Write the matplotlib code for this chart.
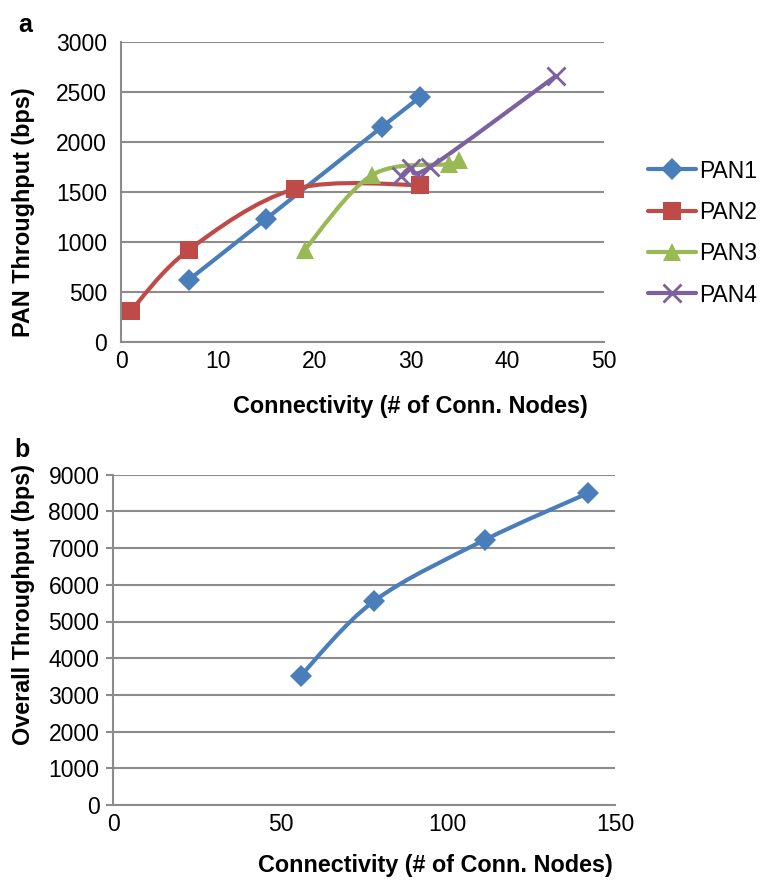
import numpy as np
import matplotlib
matplotlib.use("Agg")
import matplotlib.pyplot as plt
from matplotlib.path import Path
from matplotlib.patches import PathPatch
from matplotlib.lines import Line2D

plt.rcParams['font.family'] = ['Liberation Sans', 'DejaVu Sans']

# ---- Data: panel a ----
pan1_x = [7, 15, 27, 31]
pan1_y = [620, 1230, 2150, 2450]
pan2_x = [1, 7, 18, 31]
pan2_y = [310, 920, 1530, 1570]
pan3_x = [19, 26, 34, 35]
pan3_y = [920, 1670, 1780, 1820]
pan4_x = [29, 30, 32, 45]
pan4_y = [1660, 1740, 1750, 2660]
series_names = ["PAN1", "PAN2", "PAN3", "PAN4"]

# ---- Data: panel b ----
tot_x = [56, 78, 111, 142]
tot_y = [3520, 5560, 7220, 8500]

a_xticks = [0, 10, 20, 30, 40, 50]
a_yticks = [0, 500, 1000, 1500, 2000, 2500, 3000]
b_xticks = [0, 50, 100, 150]
b_yticks = list(range(0, 9001, 1000))

colors = ['#4A7EBB', '#BE4B48', '#98B954', '#7D60A0']
markers = ['D', 's', '^', 'x']
msizes = [11, 13, 13, 13]

GRID = '#8C8C8C'
FS = 16.5
LFS = 16.8


def smooth_path(x, y):
    """Smoothed line (Catmull-Rom style Bezier) through the data points."""
    pts = np.column_stack([x, y]).astype(float)
    n = len(pts)
    verts = [pts[0]]
    codes = [Path.MOVETO]
    for i in range(n - 1):
        p0 = pts[i - 1] if i > 0 else pts[i]
        p1 = pts[i]
        p2 = pts[i + 1]
        p3 = pts[i + 2] if i + 2 < n else pts[i + 1]
        c1 = p1 + (p2 - p0) / 6.0
        c2 = p2 - (p3 - p1) / 6.0
        verts += [c1, c2, p2]
        codes += [Path.CURVE4] * 3
    return Path(verts, codes)


def style_axes(ax, xticks, yticks, ytick_len, ypad):
    ax.set_xticks(xticks)
    ax.set_yticks(yticks)
    ax.set_xlim(xticks[0], xticks[-1])
    ax.set_ylim(yticks[0], yticks[-1])
    for s in ['top', 'right']:
        ax.spines[s].set_visible(False)
    for s in ['left', 'bottom']:
        ax.spines[s].set_color(GRID)
        ax.spines[s].set_linewidth(1.5)
    ax.yaxis.grid(True, color=GRID, linewidth=1.5)
    ax.set_axisbelow(True)
    ax.tick_params(axis='x', length=0, labelsize=FS, pad=6)
    ax.tick_params(axis='y', length=ytick_len, width=1.5, color=GRID,
                   labelsize=FS, pad=ypad)


fig = plt.figure(figsize=(7.66, 8.8), dpi=100)

# ---- Panel a ----
ax1 = fig.add_axes([121 / 766, 1 - 342 / 880, 483 / 766, 300 / 880])
style_axes(ax1, a_xticks, a_yticks, 0, 10)
data_a = [(pan1_x, pan1_y), (pan2_x, pan2_y), (pan3_x, pan3_y), (pan4_x, pan4_y)]
handles = []
for (xs, ys), c, m, ms, name in zip(data_a, colors, markers, msizes, series_names):
    patch = PathPatch(smooth_path(xs, ys), facecolor='none', edgecolor=c,
                      linewidth=3, capstyle='round', joinstyle='round', zorder=3)
    ax1.add_patch(patch)
    mew = 2 if m == 'x' else 0
    ax1.plot(xs, ys, linestyle='none', marker=m, markersize=ms, color=c,
             markeredgewidth=mew, markeredgecolor=c, zorder=4, clip_on=False)
    handles.append(Line2D([0], [0], color=c, linewidth=3, marker=m, markersize=ms,
                          markeredgewidth=mew, markeredgecolor=c,
                          solid_capstyle='round', label=name))

fig.legend(handles=handles, loc='center left',
           bbox_to_anchor=(648 / 766, 1 - 233 / 880), frameon=False,
           fontsize=FS, handlelength=2.1, handletextpad=0.15,
           labelspacing=0.8, borderpad=0, borderaxespad=0, markerscale=1.0)

fig.text(410 / 766, 1 - 406 / 880, 'Connectivity (# of Conn. Nodes)',
         ha='center', va='center', fontsize=LFS, fontweight='bold')
fig.text(24 / 766, 1 - 212 / 880, 'PAN Throughput (bps)', rotation=90,
         ha='center', va='center', fontsize=LFS, fontweight='bold')
fig.text(25 / 766, 1 - 25 / 880, 'a', ha='center', va='center',
         fontsize=18, fontweight='bold')

# ---- Panel b ----
ax2 = fig.add_axes([113.3 / 766, 1 - 805 / 880, 501.7 / 766, 330.3 / 880])
style_axes(ax2, b_xticks, b_yticks, 5, 5)
ax2.add_patch(PathPatch(smooth_path(tot_x, tot_y), facecolor='none',
                        edgecolor=colors[0], linewidth=3, capstyle='round',
                        joinstyle='round', zorder=3))
ax2.plot(tot_x, tot_y, linestyle='none', marker='D', markersize=11,
         color=colors[0], markeredgewidth=0, zorder=4)

fig.text(435 / 766, 1 - 865 / 880, 'Connectivity (# of Conn. Nodes)',
         ha='center', va='center', fontsize=LFS, fontweight='bold')
fig.text(24 / 766, 1 - 604 / 880, 'Overall Throughput (bps)', rotation=90,
         ha='center', va='center', fontsize=LFS, fontweight='bold')
fig.text(22 / 766, 1 - 450 / 880, 'b', ha='center', va='center',
         fontsize=18, fontweight='bold')

fig.savefig('out.png', dpi=100)
